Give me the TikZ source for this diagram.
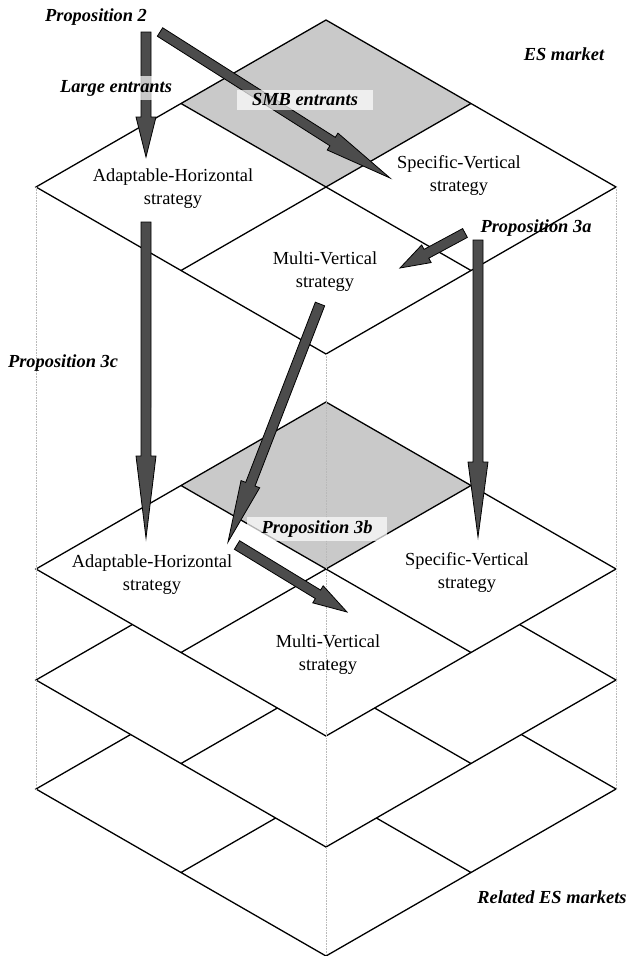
\documentclass[tikz,border=0pt]{standalone}
\usepackage{fontspec}
\setmainfont{Liberation Serif}
\newfontfamily\figfont{Liberation Serif}
\usetikzlibrary{calc}
\definecolor{quadgray}{gray}{0.79}
\definecolor{arrowgray}{gray}{0.3}
\tikzset{
  marketline/.style={draw=black, line width=1.3pt, line join=miter},
  guide/.style={densely dotted, line width=0.6pt, gray!55},
  strategy/.style={align=center, font=\figfont\fontsize{18.4}{23}\selectfont, inner sep=0pt},
  proplabel/.style={font=\figfont\fontsize{18.4}{22}\selectfont\bfseries\itshape, inner sep=1pt},
  propbox/.style={proplabel, fill=white, fill opacity=0.7, text opacity=1, inner xsep=15pt, inner ysep=4pt},
  proparrow/.style={fill=arrowgray, draw=black, line width=0.8pt, line join=miter}
}
\newcommand\blockarrow[3][34]{%
  \pgfmathsetmacro\shaftlen{sqrt(#1*#1+25)}%
  \pgfmathsetmacro\shaftang{atan(5/#1)}%
  \pgfmathsetmacro\headlen{sqrt(#1*#1+100)}%
  \pgfmathsetmacro\headang{atan(10/#1)}%
  \filldraw[proparrow] ($(#2)!5pt!90:(#3)$) -- ($(#3)!\shaftlen pt!-\shaftang:(#2)$)
    -- ($(#3)!\headlen pt!-\headang:(#2)$) -- (#3)
    -- ($(#3)!\headlen pt!\headang:(#2)$) -- ($(#3)!\shaftlen pt!\shaftang:(#2)$)
    -- ($(#2)!5pt!-90:(#3)$) -- cycle;}
\begin{document}
\begin{tikzpicture}[x=1pt,y=-1pt]
  \useasboundingbox[fill=white] (0,0) rectangle (630,956);
  \foreach \cy/\qfill in {789/white,680/white,569/quadgray,187/quadgray}{
    \begin{scope}[shift={(326,\cy)}]
      \fill[white] (-290,0) -- (0,-167) -- (290,0) -- (0,167) -- cycle;
      \fill[\qfill] (0,-167) -- (145,-83.5) -- (0,0) -- (-145,-83.5) -- cycle;
      \draw[marketline] (-290,0) -- (0,-167) -- (290,0) -- (0,167) -- cycle
        (-145,-83.5) -- (145,83.5) (145,-83.5) -- (-145,83.5);
    \end{scope}
  }
  \draw[guide] (36,187) -- (36,789);
  \draw[guide] (616,187) -- (616,789);
  \draw[guide] (326,354) -- (326,956);
  \node[strategy] (ah1) at (173,188.5) {Adaptable-Horizontal\\strategy};
  \node[strategy] (sv1) at (459,176) {Specific-Vertical\\strategy};
  \node[strategy] (mv1) at (325,271.5) {Multi-Vertical\\strategy};
  \node[strategy] (ah2) at (152,575) {Adaptable-Horizontal\\strategy};
  \node[strategy] (sv2) at (467,572) {Specific-Vertical\\strategy};
  \node[strategy] (mv2) at (328,655) {Multi-Vertical\\strategy};
  \coordinate (large-s) at (146,32);   \coordinate (large-e) at (146,157);
  \coordinate (smb-s) at (160,32);     \coordinate (smb-e) at (390,178);
  \coordinate (p3a-s) at (465,233);    \coordinate (p3a-e) at (400,268);
  \coordinate (sv-s) at (478,240);     \coordinate (sv-e) at (478,537);
  \coordinate (ah-s) at (146,222);     \coordinate (ah-e) at (146,538);
  \coordinate (mv-s) at (320,304);     \coordinate (mv-e) at (228,542);
  \coordinate (p3b-s) at (237,545);    \coordinate (p3b-e) at (347,612);
  \blockarrow[40]{large-s}{large-e}
  \blockarrow[68]{smb-s}{smb-e}
  \blockarrow[30]{p3a-s}{p3a-e}
  \blockarrow[75]{sv-s}{sv-e}
  \blockarrow[82]{ah-s}{ah-e}
  \blockarrow[62]{mv-s}{mv-e}
  \blockarrow[34]{p3b-s}{p3b-e}
  \node[proplabel] (prop2) at (96,17) {Proposition 2};
  \node[propbox, inner xsep=4pt] (large) at (116,88) {Large entrants};
  \node[propbox] (smb) at (305,100) {SMB entrants};
  \node[proplabel] (esm) at (564,54) {ES market};
  \node[proplabel] (prop3a) at (536,228) {Proposition 3a};
  \node[proplabel] (prop3c) at (63,363) {Proposition 3c};
  \node[propbox] (prop3b) at (317,529) {Proposition 3b};
  \node[proplabel] (related) at (552,897) {Related ES markets};
\end{tikzpicture}
\end{document}
